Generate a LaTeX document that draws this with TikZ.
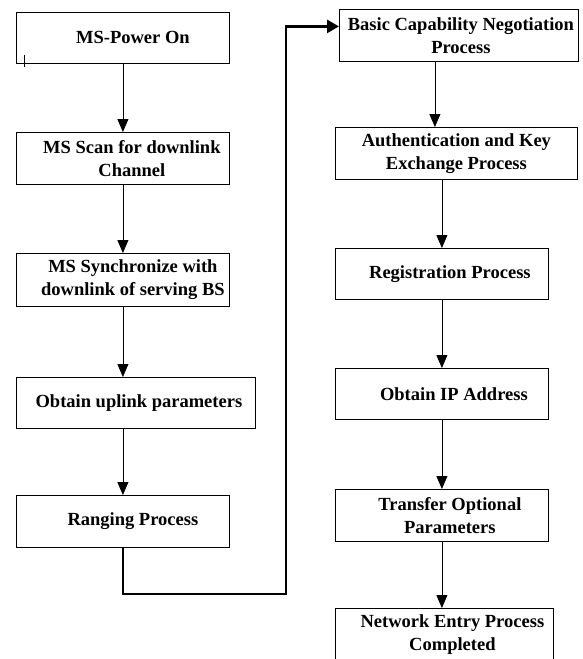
\documentclass[tikz,border=0pt]{standalone}
\usepackage{fontspec}
\setmainfont{Liberation Serif}
\usetikzlibrary{arrows.meta, positioning}

\tikzset{
  box/.style={draw, line width=0.8pt, minimum width=213pt, minimum height=52pt,
    anchor=north west, inner sep=0pt},
  txt/.style={align=center, inner sep=0pt,
    font=\bfseries\fontsize{18.5}{23}\selectfont},
  flow/.style={line width=0.8pt, -{Triangle[length=13pt,width=11pt]}},
  jump/.style={line width=2.6pt, -{Triangle[length=12pt,width=13pt]}},
}

\begin{document}
\begin{tikzpicture}[x=1pt, y=-1pt]
\useasboundingbox (0,0) rectangle (582,659);
\clip (0,0) rectangle (582,659);

% left column
\node[box, minimum height=51pt] (pwr) at (16,12) {};
\node[box] (scan) at (16,132) {};
\node[box, minimum height=53pt] (sync) at (16,253) {};
\node[box, minimum width=239pt, minimum height=51pt] (uplk) at (16,377) {};
\node[box] (rang) at (16,495) {};

\node[txt] (pwr-t)  at ([xshift=10pt]pwr.center)  {MS-Power On};
\node[txt] (scan-t) at ([xshift=9pt]scan.center)  {MS Scan for downlink\\Channel};
\node[txt] (sync-t) at ([xshift=10pt]sync.center) {MS Synchronize with\\downlink of serving BS};
\node[txt] (uplk-t) at ([xshift=3pt]uplk.center)  {Obtain uplink parameters};
\node[txt] (rang-t) at ([xshift=10pt]rang.center) {Ranging Process};

% right column
\node[box, minimum width=239pt] (bcn) at (339,9) {};
\node[box, minimum width=242pt] (auth) at (335,127) {};
\node[box, minimum height=51pt] (reg) at (335,248) {};
\node[box, minimum height=51pt] (ipad) at (335,368) {};
\node[box] (opt) at (335,489) {};
\node[box, minimum width=218pt, minimum height=53pt] (done) at (335,608) {};

\node[txt] (bcn-t)  at ([xshift=2pt]bcn.center)   {Basic Capability Negotiation\\Process};
\node[txt] (auth-t) at (auth.center)              {Authentication and Key\\Exchange Process};
\node[txt] (reg-t)  at ([xshift=8pt]reg.center)   {Registration Process};
\node[txt] (ipad-t) at ([xshift=12pt]ipad.center) {Obtain IP Address};
\node[txt] (opt-t)  at ([xshift=8pt]opt.center)   {Transfer Optional\\Parameters};
\node[txt] (done-t) at ([xshift=8pt]done.center)  {Network Entry Process\\Completed};

\draw[line width=0.6pt] (24,55) -- (24,67);

\draw[flow] (pwr.south) -- (scan.north);
\draw[flow] (scan.south) -- (sync.north);
\draw[flow] (sync.south) -- (sync.south |- uplk.north);
\draw[flow] (uplk.south -| rang.north) -- (rang.north);

\draw[flow] ([xshift=-24pt]bcn.south) -- ([xshift=-24pt]bcn.south |- auth.north);
\draw[flow] (auth.south -| reg.north) -- (reg.north);
\draw[flow] (reg.south) -- (ipad.north);
\draw[flow] (ipad.south) -- (opt.north);
\draw[flow] (opt.south) -- (opt.south |- done.north);

%
\coordinate (turn) at (286,594);
\draw[jump] (rang.south) |- (turn) |- ([yshift=9pt]bcn.west);
\end{tikzpicture}
\end{document}
